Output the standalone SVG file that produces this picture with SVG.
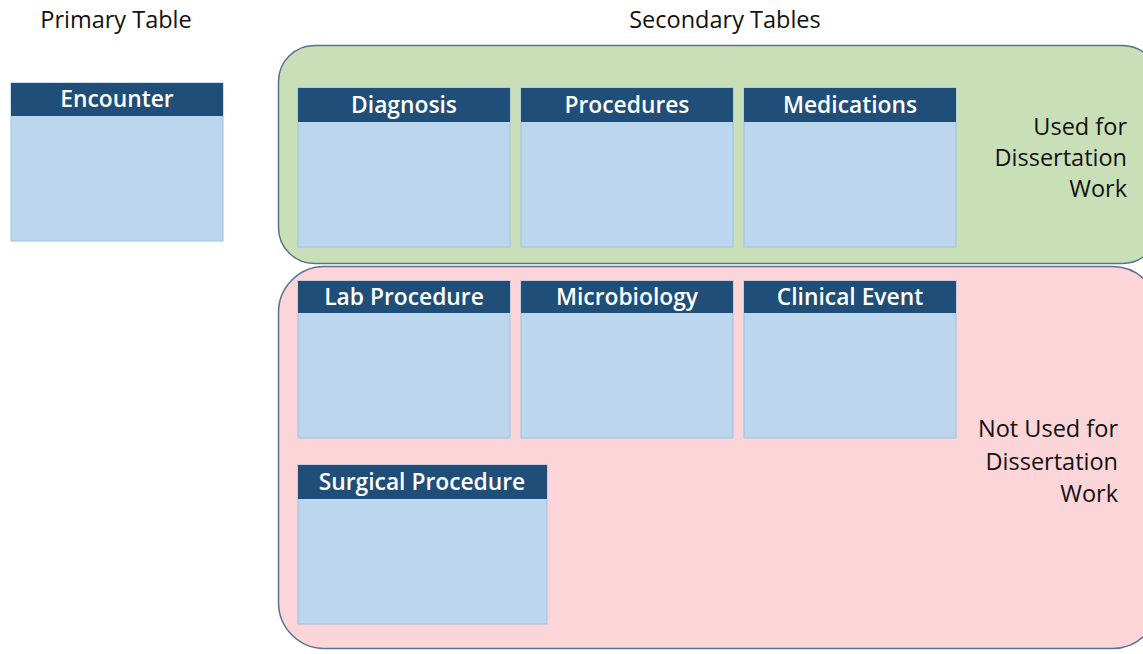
<svg xmlns="http://www.w3.org/2000/svg" width="1143" height="654" viewBox="0 0 1143 654">
  <style>
    .bg { fill: #ffffff; }
    .label { font-family: "Open Sans", "Liberation Sans", sans-serif; font-size: 23.5px; fill: #111111; }
    .right { text-anchor: end; }
    .group-used { fill: #C9DFB7; stroke: #5B6F95; stroke-width: 1.5; }
    .group-unused { fill: #FBD5D8; stroke: #5B6F95; stroke-width: 1.5; }
    .tbody { fill: #BCD6EE; stroke: #9CC2E5; stroke-width: 1; }
    .thead { fill: #1F4E79; }
    .ttitle { font-family: "Open Sans", "Liberation Sans", sans-serif; font-size: 22.8px; font-weight: 600; fill: #ffffff; text-anchor: middle; }
  </style>
  <rect class="bg" x="0" y="0" width="1143" height="654"/>

  <!-- column headings -->
  <text class="label" x="116" y="28" text-anchor="middle">Primary Table</text>
  <text class="label" x="725" y="28" text-anchor="middle">Secondary Tables</text>

  <!-- grouping panels -->
  <g id="group-used">
    <rect class="group-used" x="278.5" y="45.5" width="880" height="218" rx="36"/>
    <text class="label right" x="1127" y="135">Used for</text>
    <text class="label right" x="1127" y="166">Dissertation</text>
    <text class="label right" x="1127" y="197">Work</text>
  </g>
  <g id="group-unused">
    <rect class="group-unused" x="278.5" y="266.5" width="880" height="382" rx="46"/>
    <text class="label right" x="1118" y="437">Not Used for</text>
    <text class="label right" x="1118" y="470">Dissertation</text>
    <text class="label right" x="1118" y="502">Work</text>
  </g>

  <!-- tables -->
  <g id="encounter">
    <rect class="tbody" x="11" y="83" width="212" height="158"/>
    <rect class="thead" x="11" y="83" width="212" height="33"/>
    <text class="ttitle" x="117" y="107">Encounter</text>
  </g>
  <g id="diagnosis">
    <rect class="tbody" x="298" y="88" width="212" height="159"/>
    <rect class="thead" x="298" y="88" width="212" height="34"/>
    <text class="ttitle" x="404" y="113">Diagnosis</text>
  </g>
  <g id="procedures">
    <rect class="tbody" x="521" y="88" width="212" height="159"/>
    <rect class="thead" x="521" y="88" width="212" height="34"/>
    <text class="ttitle" x="627" y="113">Procedures</text>
  </g>
  <g id="medications">
    <rect class="tbody" x="744" y="88" width="212" height="159"/>
    <rect class="thead" x="744" y="88" width="212" height="34"/>
    <text class="ttitle" x="850" y="113">Medications</text>
  </g>
  <g id="lab-procedure">
    <rect class="tbody" x="298" y="281" width="212" height="157"/>
    <rect class="thead" x="298" y="281" width="212" height="32"/>
    <text class="ttitle" x="404" y="305">Lab Procedure</text>
  </g>
  <g id="microbiology">
    <rect class="tbody" x="521" y="281" width="212" height="157"/>
    <rect class="thead" x="521" y="281" width="212" height="32"/>
    <text class="ttitle" x="627" y="305">Microbiology</text>
  </g>
  <g id="clinical-event">
    <rect class="tbody" x="744" y="281" width="212" height="157"/>
    <rect class="thead" x="744" y="281" width="212" height="32"/>
    <text class="ttitle" x="850" y="305">Clinical Event</text>
  </g>
  <g id="surgical-procedure">
    <rect class="tbody" x="298" y="465" width="249" height="159"/>
    <rect class="thead" x="298" y="465" width="249" height="34"/>
    <text class="ttitle" x="422" y="490">Surgical Procedure</text>
  </g>

  <!-- no connectors between tables -->
  <g id="connectors"/>
</svg>
